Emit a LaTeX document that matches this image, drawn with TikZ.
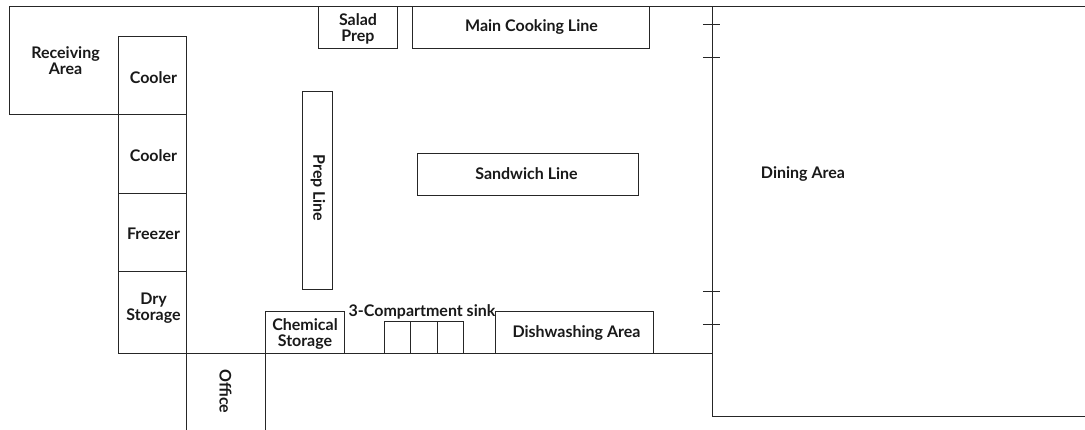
\documentclass[tikz,border=0pt]{standalone}
\usepackage{fontspec}
\setmainfont{Lato}
\tikzset{
  wall/.style={draw=black!85,line width=1pt},
  room/.style={draw=black!85,line width=1pt},
  lbl/.style={font=\bfseries\fontsize{16}{16}\selectfont,text=black!90,align=center,inner sep=0pt},
}
\begin{document}
\begin{tikzpicture}[x=1pt,y=-1pt]
\useasboundingbox (0,0) rectangle (1085,429);
\begin{scope}[shift={(-0.2,-0.2)}]
% fixed corners of the outline
\coordinate (tl) at (10,7); \coordinate (tr) at (1086,7);
\coordinate (rb) at (10,115);
\coordinate (bl) at (119,354); \coordinate (bm) at (713,354);
\coordinate (dt) at (713,7); \coordinate (db) at (713,417); \coordinate (dr) at (1086,417);
\coordinate (o1t) at (187,354); \coordinate (o1b) at (187,430);
\coordinate (o2t) at (266,354); \coordinate (o2b) at (266,430);
\draw[wall] (tr) -- (tl) -- (rb) -- (119,115);
\draw[wall] (bl) -- (bm);
\draw[wall] (dr) -- (db) -- (dt);
\draw[wall] (o1t) -- (o1b);
\draw[wall] (o2t) -- (o2b);
% door ticks
\foreach \n/\y in {a/25,b/58,c/292,d/325}{
  \coordinate (t\n l) at (703,\y); \coordinate (t\n r) at (720,\y);
  \draw[wall] (t\n l) -- (t\n r);
}
% rooms
\draw[room] (119,37) rectangle (187,115);
\draw[room] (119,115) rectangle (187,194);
\draw[room] (119,194) rectangle (187,272);
\draw[room] (119,272) rectangle (187,354);
\draw[room] (266,312) rectangle (345,354);
\draw[room] (385,322) rectangle (411,354);
\draw[room] (411,322) rectangle (437.5,354);
\draw[room] (437.5,322) rectangle (464,354);
\draw[room] (496,312) rectangle (654,354);
\draw[room] (318.5,7) rectangle (398,49);
\draw[room] (413,7) rectangle (650,49);
\draw[room] (303,92) rectangle (332.5,290);
\draw[room] (418,154) rectangle (639,196);
\end{scope}
% labels
\node[lbl] (recv) at (65.5,61) {Receiving\\Area};
\node[lbl] (c1) at (153.5,78) {Cooler};
\node[lbl] (c2) at (153.5,156) {Cooler};
\node[lbl] (fr) at (153.5,233.5) {Freezer};
\node[lbl] (dry) at (153.5,308) {Dry\\Storage};
\node[lbl] (chem) at (305,333.5) {Chemical\\Storage};
\node[lbl] (sink) at (422,312) {3-Compartment sink};
\node[lbl] (dish) at (576.5,333) {Dishwashing Area};
\node[lbl] (salad) at (358,29) {Salad\\Prep};
\node[lbl] (main) at (531.5,27) {Main Cooking Line};
\node[lbl,rotate=-90] (prep) at (318,188) {Prep Line};
\node[lbl] (sand) at (526.5,174) {Sandwich Line};
\node[lbl] (din) at (803,174) {Dining Area};
\node[lbl,rotate=-90] (off) at (225.5,391.5) {Office};
\end{tikzpicture}
\end{document}
